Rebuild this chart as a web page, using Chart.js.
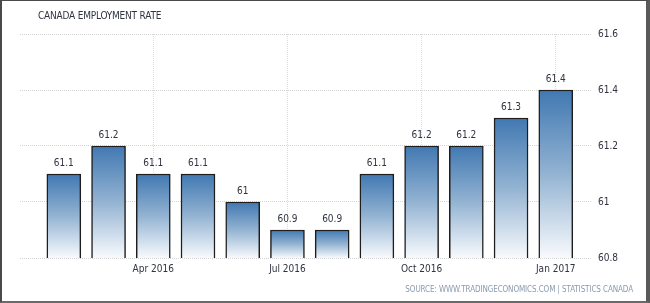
<!DOCTYPE html>
<html>
<head>
<meta charset="utf-8">
<script src="https://cdn.jsdelivr.net/npm/chart.js@4"></script>
<style>
    html, body { margin: 0; padding: 0; background: #fff; }
    #wrap { position: relative; width: 650px; height: 303px; overflow: hidden; }
    #chart { position: absolute; left: 0; top: 0; }
    #frame {
        position: absolute; left: 0; top: 0; width: 650px; height: 303px; box-sizing: border-box;
        border-left: 2px solid #4a4a4a; border-top: 1px solid #4a4a4a;
        border-right: 4px solid #5a5a5a; border-bottom: 2px solid #6a6a6a;
        pointer-events: none;
    }
    #title {
        position: absolute; left: 38px; top: 10px;
        font: 10px "DejaVu Sans Condensed", "DejaVu Sans", sans-serif; color: #2f3440; letter-spacing: -0.2px;
    }
    #source {
        position: absolute; right: 17px; top: 285px;
        font: 8px "DejaVu Sans Condensed", "DejaVu Sans", sans-serif; color: #8a9ab0; letter-spacing: -0.1px;
    }
</style>
</head>
<body>
<div id="wrap">
    <canvas id="chart" width="650" height="303"></canvas>
    <div id="title">CANADA EMPLOYMENT RATE</div>
    <div id="source">SOURCE: WWW.TRADINGECONOMICS.COM | STATISTICS CANADA</div>
    <div id="frame"></div>
</div>
<script>
const months = ['Feb 2016', 'Mar 2016', 'Apr 2016', 'May 2016', 'Jun 2016', 'Jul 2016',
                'Aug 2016', 'Sep 2016', 'Oct 2016', 'Nov 2016', 'Dec 2016', 'Jan 2017'];
const values = [61.1, 61.2, 61.1, 61.1, 61, 60.9, 60.9, 61.1, 61.2, 61.2, 61.3, 61.4];
const tickMonths = ['Apr 2016', 'Jul 2016', 'Oct 2016', 'Jan 2017'];
const yTicks = [60.8, 61, 61.2, 61.4, 61.6];

const textColor = '#2f3440';
const tickFont = { family: 'DejaVu Sans Condensed', size: 10 };

function barGradient(context) {
    const chart = context.chart;
    const area = chart.chartArea;
    if (!area || context.type !== 'data') return '#4a80b6';
    const top = chart.scales.y.getPixelForValue(context.raw.y);
    const g = chart.ctx.createLinearGradient(0, top, 0, area.bottom);
    g.addColorStop(0, '#4178b2');
    g.addColorStop(0.5, '#93b3d2');
    g.addColorStop(1, '#f8fafd');
    return g;
}

const valueLabels = {
    id: 'valueLabels',
    afterDatasetsDraw(chart) {
        const ctx = chart.ctx;
        const meta = chart.getDatasetMeta(0);
        ctx.save();
        ctx.font = '10px "DejaVu Sans Condensed"';
        ctx.fillStyle = textColor;
        ctx.textAlign = 'center';
        ctx.textBaseline = 'middle';
        meta.data.forEach((bar, i) => {
            ctx.fillText(String(values[i]), bar.x, bar.y - 11);
        });
        ctx.restore();
    }
};

new Chart(document.getElementById('chart'), {
    type: 'bar',
    data: {
        datasets: [{
            data: values.map((v, i) => ({ x: i, y: v })),
            backgroundColor: barGradient,
            borderColor: '#1e1e1e',
            borderWidth: 1.5,
            borderSkipped: false,
            barThickness: 34
        }]
    },
    options: {
        responsive: false,
        animation: false,
        layout: { padding: { left: 20, right: 0, top: 34, bottom: 0 } },
        plugins: { legend: { display: false }, tooltip: { enabled: false } },
        scales: {
            x: {
                type: 'linear',
                offset: false,
                min: -0.98,
                max: 11.81,
                afterBuildTicks: (scale) => {
                    scale.ticks = tickMonths.map(m => ({ value: months.indexOf(m) }));
                },
                afterFit: (scale) => { scale.height = 45; },
                ticks: {
                    autoSkip: false,
                    maxRotation: 0,
                    padding: 5,
                    color: textColor,
                    font: tickFont,
                    callback: (v) => months[Math.round(v)]
                },
                grid: { offset: false, color: '#dcdcdc', drawTicks: false },
                border: { display: false, dash: [1, 1] }
            },
            y: {
                position: 'right',
                min: 60.8,
                max: 61.6,
                afterBuildTicks: (scale) => {
                    scale.ticks = yTicks.map(v => ({ value: v }));
                },
                afterFit: (scale) => { scale.width = 58; },
                ticks: {
                    padding: 6,
                    color: textColor,
                    font: tickFont,
                    callback: (v) => String(v)
                },
                grid: { color: '#d4d4d4', drawTicks: false },
                border: { display: false, dash: [1, 1] }
            }
        }
    },
    plugins: [valueLabels]
});
</script>
</body>
</html>
